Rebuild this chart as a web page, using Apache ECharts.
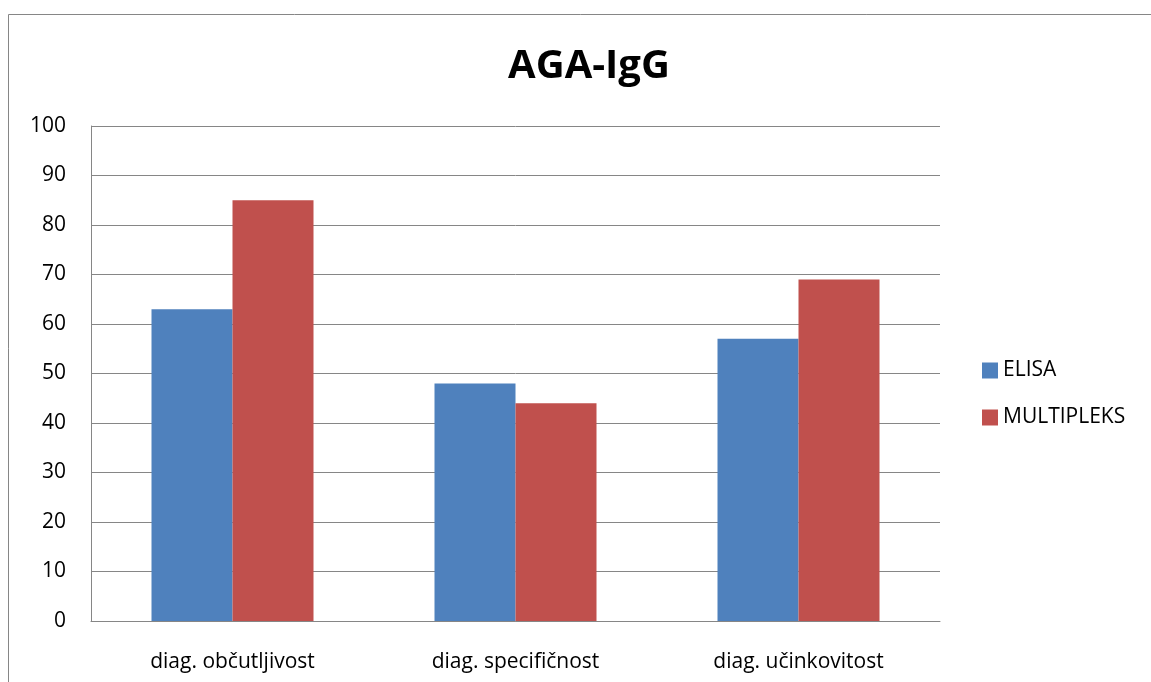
<!DOCTYPE html>
<html>
<head>
<meta charset="utf-8">
<script src="https://cdn.jsdelivr.net/npm/echarts@6/dist/echarts.min.js"></script>
<style>
  html, body { margin: 0; padding: 0; background: #ffffff; }
  #chart { width: 1151px; height: 682px; }
</style>
</head>
<body>
<div id="chart"></div>
<script>
const categories = ['diag. občutljivost', 'diag. specifičnost', 'diag. učinkovitost'];
const elisaValues = [63, 48, 57];
const multipleksValues = [85, 44, 69];
const seriesNames = ['ELISA', 'MULTIPLEKS'];

const FONT = '"Open Sans", "Noto Sans", sans-serif';
const chart = echarts.init(document.getElementById('chart'), null, { renderer: 'canvas' });

chart.setOption({
  backgroundColor: '#ffffff',
  animation: false,
  title: {
    text: 'AGA-IgG',
    left: 584,
    textAlign: 'center',
    top: 42,
    textStyle: { fontFamily: FONT, fontWeight: 'bold', fontSize: 40, color: '#000000' }
  },
  graphic: [{
    type: 'rect',
    shape: { x: 8.5, y: 14.5, width: 1170, height: 700 },
    style: { fill: 'none', stroke: '#868686', lineWidth: 1 },
    silent: true
  }],
  legend: {
    orient: 'vertical',
    left: 977,
    top: 355,
    itemWidth: 16,
    itemHeight: 16,
    itemGap: 26,
    icon: 'rect',
    textStyle: { fontFamily: FONT, fontSize: 21, color: '#000000' },
    data: seriesNames
  },
  grid: { left: 91, right: 211, top: 126, bottom: 61 },
  xAxis: {
    type: 'category',
    data: categories,
    axisLine: { lineStyle: { color: '#868686', width: 1 } },
    axisTick: { show: false },
    axisLabel: { fontFamily: FONT, fontSize: 21, color: '#000000', margin: 31 }
  },
  yAxis: {
    type: 'value',
    min: 0,
    max: 100,
    interval: 10,
    axisLine: { show: true, lineStyle: { color: '#868686', width: 1 } },
    axisTick: { show: false },
    splitLine: { lineStyle: { color: '#868686', width: 1 } },
    axisLabel: { fontFamily: FONT, fontSize: 21, color: '#000000', margin: 25 }
  },
  series: [
    {
      name: seriesNames[0],
      type: 'bar',
      data: elisaValues,
      barWidth: 81,
      barGap: '0%',
      itemStyle: { color: '#4f81bd' }
    },
    {
      name: seriesNames[1],
      type: 'bar',
      data: multipleksValues,
      barWidth: 81,
      barGap: '0%',
      itemStyle: { color: '#c0504d' }
    }
  ]
});
</script>
</body>
</html>
